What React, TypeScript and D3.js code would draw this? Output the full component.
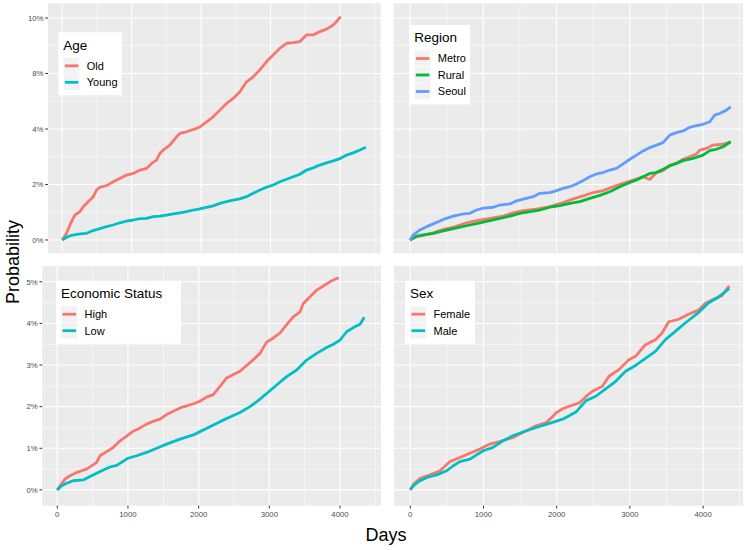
import React from "react";
import * as d3 from "d3";

type Pt = [number, number];

// ---------- DATA (days, cumulative probability in %) ----------
const ageOld: Pt[] = [[0,0],[62,0.24],[125,0.62],[182,0.9],[254,1.02],[302,1.2],[374,1.38],[446,1.56],[494,1.8],[542,1.9],[638,1.96],[734,2.1],[830,2.22],[926,2.34],[1022,2.4],[1118,2.52],[1214,2.58],[1286,2.76],[1358,2.88],[1406,3.12],[1454,3.24],[1550,3.42],[1646,3.72],[1694,3.84],[1790,3.9],[1934,4.02],[1982,4.08],[2078,4.26],[2174,4.44],[2270,4.68],[2366,4.92],[2462,5.1],[2558,5.34],[2654,5.7],[2750,5.88],[2846,6.13],[2942,6.43],[3038,6.67],[3134,6.91],[3230,7.09],[3326,7.11],[3422,7.15],[3518,7.39],[3614,7.39],[3710,7.51],[3806,7.6],[3902,7.75],[3950,7.87],[4008,8.05]];
const ageYoung: Pt[] = [[0,0],[62,0.1],[134,0.17],[254,0.22],[350,0.24],[446,0.34],[542,0.41],[638,0.48],[734,0.54],[830,0.62],[926,0.68],[1022,0.72],[1118,0.77],[1214,0.78],[1310,0.84],[1406,0.86],[1502,0.9],[1598,0.94],[1694,0.98],[1790,1.02],[1886,1.08],[1982,1.12],[2174,1.23],[2270,1.32],[2366,1.38],[2462,1.44],[2558,1.48],[2654,1.56],[2750,1.68],[2846,1.8],[2942,1.9],[3038,1.98],[3134,2.1],[3230,2.19],[3326,2.28],[3422,2.37],[3518,2.52],[3614,2.6],[3710,2.7],[3806,2.78],[3902,2.85],[3998,2.93],[4094,3.06],[4190,3.14],[4286,3.24],[4373,3.34]];

const regionMetro: Pt[] = [[0,0],[68,0.1],[182,0.17],[318,0.26],[455,0.38],[591,0.46],[773,0.62],[909,0.7],[1091,0.78],[1273,0.86],[1409,0.98],[1545,1.06],[1727,1.11],[1909,1.2],[2091,1.35],[2227,1.48],[2364,1.59],[2500,1.71],[2636,1.78],[2773,1.92],[2909,2.04],[3045,2.16],[3182,2.28],[3273,2.18],[3364,2.43],[3454,2.5],[3545,2.7],[3636,2.76],[3727,2.91],[3818,3.0],[3909,3.1],[3955,3.24],[4045,3.3],[4136,3.42],[4273,3.45],[4377,3.54]];
const regionRural: Pt[] = [[0,0],[91,0.14],[182,0.18],[318,0.24],[409,0.3],[545,0.38],[682,0.46],[818,0.54],[955,0.62],[1091,0.7],[1227,0.78],[1364,0.86],[1500,0.96],[1636,1.02],[1773,1.08],[1909,1.18],[2045,1.24],[2182,1.32],[2318,1.38],[2454,1.5],[2591,1.61],[2727,1.74],[2864,1.92],[3000,2.07],[3091,2.16],[3182,2.28],[3273,2.4],[3364,2.43],[3454,2.55],[3545,2.67],[3636,2.76],[3727,2.86],[3818,2.91],[3909,2.98],[4000,3.06],[4091,3.22],[4182,3.27],[4273,3.36],[4377,3.54]];
const regionSeoul: Pt[] = [[0,0],[45,0.18],[136,0.36],[227,0.48],[318,0.58],[455,0.74],[591,0.86],[727,0.94],[818,0.96],[909,1.08],[1000,1.15],[1136,1.18],[1227,1.26],[1364,1.3],[1454,1.41],[1545,1.47],[1682,1.56],[1773,1.68],[1909,1.71],[2000,1.78],[2091,1.86],[2182,1.92],[2273,2.02],[2364,2.14],[2454,2.28],[2545,2.38],[2636,2.43],[2727,2.52],[2818,2.58],[2909,2.74],[3000,2.91],[3091,3.06],[3182,3.21],[3273,3.33],[3364,3.42],[3454,3.51],[3545,3.78],[3636,3.87],[3727,3.93],[3818,4.06],[3909,4.12],[4000,4.17],[4091,4.26],[4159,4.5],[4227,4.56],[4318,4.68],[4377,4.8]];

const econHigh: Pt[] = [[0,0],[38,0.1],[108,0.26],[179,0.34],[274,0.42],[415,0.5],[557,0.66],[604,0.82],[698,0.92],[792,1.02],[887,1.18],[981,1.29],[1075,1.41],[1170,1.49],[1264,1.58],[1358,1.65],[1453,1.7],[1547,1.81],[1641,1.89],[1736,1.97],[1830,2.02],[1925,2.07],[2019,2.13],[2113,2.23],[2208,2.29],[2302,2.49],[2396,2.69],[2491,2.77],[2585,2.85],[2679,2.99],[2774,3.13],[2868,3.28],[2962,3.55],[3057,3.65],[3151,3.77],[3245,3.97],[3340,4.16],[3434,4.28],[3481,4.48],[3575,4.64],[3670,4.8],[3764,4.9],[3858,5.0],[3929,5.06],[3980,5.1]];
const econLow: Pt[] = [[0,0],[61,0.1],[132,0.16],[226,0.22],[368,0.24],[462,0.32],[557,0.4],[651,0.48],[745,0.55],[840,0.59],[1000,0.76],[1123,0.82],[1264,0.9],[1406,1.0],[1547,1.1],[1736,1.22],[1925,1.32],[2019,1.4],[2160,1.52],[2302,1.64],[2443,1.75],[2585,1.86],[2726,2.0],[2868,2.18],[3000,2.37],[3104,2.52],[3245,2.72],[3387,2.88],[3528,3.12],[3670,3.28],[3811,3.42],[3906,3.5],[4000,3.6],[4094,3.8],[4189,3.9],[4283,3.98],[4344,4.15]];

const sexFemale: Pt[] = [[0,0],[45,0.14],[136,0.28],[272,0.36],[407,0.46],[543,0.68],[679,0.78],[815,0.88],[950,0.98],[1086,1.1],[1222,1.16],[1403,1.26],[1584,1.42],[1720,1.54],[1855,1.62],[1946,1.76],[1991,1.85],[2082,1.95],[2172,2.01],[2308,2.09],[2398,2.24],[2489,2.37],[2625,2.49],[2715,2.73],[2851,2.89],[2987,3.13],[3077,3.21],[3213,3.49],[3349,3.61],[3439,3.77],[3530,4.04],[3665,4.1],[3801,4.22],[3937,4.32],[4027,4.48],[4163,4.6],[4253,4.66],[4358,4.9]];
const sexMale: Pt[] = [[0,0],[45,0.1],[113,0.2],[226,0.3],[362,0.36],[498,0.46],[588,0.58],[679,0.68],[815,0.74],[996,0.94],[1131,1.02],[1267,1.18],[1403,1.3],[1539,1.39],[1720,1.5],[1901,1.6],[2082,1.7],[2263,1.87],[2398,2.14],[2534,2.25],[2670,2.43],[2806,2.61],[2941,2.85],[3077,2.99],[3213,3.16],[3349,3.33],[3485,3.61],[3620,3.81],[3756,4.01],[3937,4.26],[4073,4.49],[4208,4.63],[4358,4.84]];

const xTicks = [0, 1000, 2000, 3000, 4000];
const xTickLabels = ["0", "1000", "2000", "3000", "4000"];
const xMinor = [500, 1500, 2500, 3500, 4500];
const yTicksTop = [0, 2, 4, 6, 8];
const yTickLabelsTop = ["0%", "2%", "4%", "8%", "10%"];
const yMinorTop = [1, 3, 5, 7];
const yTicksBottom = [0, 1, 2, 3, 4, 5];
const yTickLabelsBottom = ["0%", "1%", "2%", "3%", "4%", "5%"];
const yMinorBottom = [0.5, 1.5, 2.5, 3.5, 4.5];

const hue2 = ["#F8766D", "#00BFC4"];
const hue3 = ["#F8766D", "#00BA38", "#619CFF"];

const FONT = "'Liberation Sans', Arial, Helvetica, sans-serif";

interface Series { name: string; color: string; data: Pt[] }
interface PanelSpec {
  title: string;
  series: Series[];
  left: number; right: number; top: number; bottom: number;
  xDomain: [number, number];
  yDomain: [number, number];
  yTicks: number[]; yTickLabels: string[]; yMinor: number[];
  showY: boolean; showX: boolean;
  legend: { x: number; y: number; w: number };
}

const panels: PanelSpec[] = [
  {
    title: "Age",
    series: [
      { name: "Old", color: hue2[0], data: ageOld },
      { name: "Young", color: hue2[1], data: ageYoung },
    ],
    left: 48, right: 380.7, top: 3.3, bottom: 253.3,
    xDomain: [-205, 4586], yDomain: [-0.48, 8.53],
    yTicks: yTicksTop, yTickLabels: yTickLabelsTop, yMinor: yMinorTop,
    showY: true, showX: false,
    legend: { x: 58.3, y: 32.3, w: 63.5 },
  },
  {
    title: "Region",
    series: [
      { name: "Metro", color: hue3[0], data: regionMetro },
      { name: "Rural", color: hue3[1], data: regionRural },
      { name: "Seoul", color: hue3[2], data: regionSeoul },
    ],
    left: 393.5, right: 743, top: 3.3, bottom: 253.3,
    xDomain: [-225, 4545], yDomain: [-0.48, 8.53],
    yTicks: yTicksTop, yTickLabels: yTickLabelsTop, yMinor: yMinorTop,
    showY: false, showX: false,
    legend: { x: 409.3, y: 25, w: 60.7 },
  },
  {
    title: "Economic Status",
    series: [
      { name: "High", color: hue2[0], data: econHigh },
      { name: "Low", color: hue2[1], data: econLow },
    ],
    left: 42.3, right: 381, top: 266, bottom: 505.7,
    xDomain: [-212, 4580], yDomain: [-0.38, 5.38],
    yTicks: yTicksBottom, yTickLabels: yTickLabelsBottom, yMinor: yMinorBottom,
    showY: true, showX: true,
    legend: { x: 56, y: 280.7, w: 125 },
  },
  {
    title: "Sex",
    series: [
      { name: "Female", color: hue2[0], data: sexFemale },
      { name: "Male", color: hue2[1], data: sexMale },
    ],
    left: 394, right: 743, top: 266, bottom: 505.7,
    xDomain: [-222, 4545], yDomain: [-0.38, 5.38],
    yTicks: yTicksBottom, yTickLabels: yTickLabelsBottom, yMinor: yMinorBottom,
    showY: false, showX: true,
    legend: { x: 405, y: 280.7, w: 70 },
  },
];

function Panel({ p }: { p: PanelSpec }) {
  const x = d3.scaleLinear().domain(p.xDomain).range([p.left, p.right]);
  const y = d3.scaleLinear().domain(p.yDomain).range([p.bottom, p.top]);
  const line = d3.line<Pt>().x((d) => x(d[0])).y((d) => y(d[1]));
  const inX = (v: number) => x(v) >= p.left && x(v) <= p.right;
  const inY = (v: number) => y(v) >= p.top && y(v) <= p.bottom;
  const lg = p.legend;
  const keyStep = 16.5;
  const firstKey = lg.y + 33.5;
  const boxH = 33.5 + keyStep * (p.series.length - 1) + 13;
  return (
    <g>
      <rect x={p.left} y={p.top} width={p.right - p.left} height={p.bottom - p.top} fill="#EBEBEB" />
      {p.yMinor.filter(inY).map((v) => (
        <line key={"ym" + v} x1={p.left} x2={p.right} y1={y(v)} y2={y(v)} stroke="#fff" strokeWidth={0.55} />
      ))}
      {xMinor.filter(inX).map((v) => (
        <line key={"xm" + v} x1={x(v)} x2={x(v)} y1={p.top} y2={p.bottom} stroke="#fff" strokeWidth={0.55} />
      ))}
      {p.yTicks.map((v) => (
        <line key={"yM" + v} x1={p.left} x2={p.right} y1={y(v)} y2={y(v)} stroke="#fff" strokeWidth={1.1} />
      ))}
      {xTicks.map((v) => (
        <line key={"xM" + v} x1={x(v)} x2={x(v)} y1={p.top} y2={p.bottom} stroke="#fff" strokeWidth={1.1} />
      ))}
      {p.series.map((s) => (
        <path key={s.name} d={line(s.data) || ""} fill="none" stroke={s.color} strokeWidth={2.8} strokeLinejoin="round" />
      ))}
      {p.showY &&
        p.yTicks.map((v, i) => (
          <g key={"yt" + v}>
            <line x1={p.left - 2.8} x2={p.left} y1={y(v)} y2={y(v)} stroke="#333" strokeWidth={1} />
            <text x={p.left - 4.5} y={y(v)} dy="0.35em" textAnchor="end" fontSize={7.8} fill="#4D4D4D" fontFamily={FONT}>
              {p.yTickLabels[i]}
            </text>
          </g>
        ))}
      {p.showX &&
        xTicks.map((v, i) => (
          <g key={"xt" + v}>
            <line x1={x(v)} x2={x(v)} y1={p.bottom} y2={p.bottom + 2.8} stroke="#333" strokeWidth={1} />
            <text x={x(v)} y={p.bottom + 11.3} textAnchor="middle" fontSize={7.8} fill="#4D4D4D" fontFamily={FONT}>
              {xTickLabels[i]}
            </text>
          </g>
        ))}
      <g>
        <rect x={lg.x} y={lg.y} width={lg.w} height={boxH} fill="#fff" />
        <text x={lg.x + 5} y={lg.y + 12.5} dy="0.35em" fontSize={13.5} fill="#000" fontFamily={FONT}>
          {p.title}
        </text>
        {p.series.map((s, i) => {
          const cy = firstKey + i * keyStep;
          return (
            <g key={"lg" + s.name}>
              <rect x={lg.x + 5} y={cy - keyStep / 2} width={16.5} height={keyStep} fill="#F2F2F2" stroke="#fff" strokeWidth={0.5} />
              <line x1={lg.x + 6.5} x2={lg.x + 20} y1={cy} y2={cy} stroke={s.color} strokeWidth={2.8} />
              <text x={lg.x + 28.5} y={cy} dy="0.36em" fontSize={11} fill="#000" fontFamily={FONT}>
                {s.name}
              </text>
            </g>
          );
        })}
      </g>
    </g>
  );
}

export default function App() {
  return (
    <svg
      width={750}
      height={550}
      viewBox="0 0 750 550"
      style={{ position: "absolute", left: 0, top: 0, display: "block", background: "#fff" }}
    >
      <rect x={0} y={0} width={750} height={550} fill="#fff" />
      {panels.map((p) => (
        <Panel key={p.title} p={p} />
      ))}
      <text
        transform="translate(13,262) rotate(-90)"
        textAnchor="middle"
        dy="0.35em"
        fontSize={18}
        fill="#000"
        fontFamily={FONT}
      >
        Probability
      </text>
      <text x={386} y={541} textAnchor="middle" fontSize={18} fill="#000" fontFamily={FONT}>
        Days
      </text>
    </svg>
  );
}
